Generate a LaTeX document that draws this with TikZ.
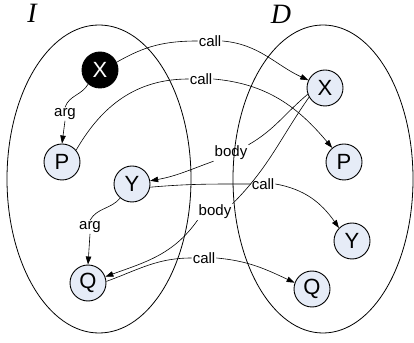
\documentclass[tikz,border=0pt]{standalone}
\usepackage{fontspec}
\setmainfont{Liberation Sans}
\newfontfamily\serifit{Liberation Serif}
\usetikzlibrary{arrows.meta}
\definecolor{nodefill}{HTML}{E6ECF7}
\begin{document}
\begin{tikzpicture}[x=1pt,y=1pt,
  vert/.style={circle,draw,line width=0.9pt,fill=nodefill,minimum size=36pt,inner sep=0pt,font=\fontsize{22}{22}\selectfont},
  blackvert/.style={vert,fill=black,text=white},
  lbl/.style={inner sep=1pt,font=\fontsize{15}{15}\selectfont},
  setlbl/.style={inner sep=0pt,font=\serifit\itshape\fontsize{28}{28}\selectfont},
  set/.style={line width=0.8pt},
  conn/.style={line width=0.6pt},
  arr/.style={conn,-{Triangle[length=8pt,width=5.5pt]}}]
\useasboundingbox (0,0) rectangle (414,342);
% sets
\draw[set] (99,163) ellipse [x radius=92, y radius=154];
\draw[set] (323,163) ellipse [x radius=90, y radius=154];
\node[setlbl] (setI) at (32,329) {I};
\node[setlbl] (setD) at (281,328) {D};
% nodes
\node[blackvert] (XL) at (100,272) {X};
\node[vert] (PL) at (62,180) {P};
\node[vert] (YL) at (132,158) {Y};
\node[vert] (QL) at (88,59) {Q};
\node[vert] (XR) at (325,254) {X};
\node[vert] (PR) at (344,180) {P};
\node[vert] (YR) at (352,101) {Y};
\node[vert] (QR) at (312,53) {Q};
% labels
\node[lbl] (c1) at (210,301) {call};
\node[lbl] (c2) at (201,263) {call};
\node[lbl] (b1) at (231,189) {body};
\node[lbl] (c3) at (263,158) {call};
\node[lbl] (b2) at (215,130) {body};
\node[lbl] (c4) at (204,84) {call};
\node[lbl] (a1) at (65,228) {arg};
\node[lbl] (a2) at (90,115) {arg};
% connectors
\draw[conn] (XL.25) to[out=30,in=180] (c1.west);
\draw[arr] (c1.east) to[out=-5,in=155] (XR.155);
\draw[conn] (PL.40) to[out=60,in=180] (c2.west);
\draw[arr] (c2.east) to[out=-5,in=130] (PR.130);
\draw[conn] (XR.200) to[out=-140,in=30] (b1.north east);
\draw[arr] (b1.south west) to[out=-160,in=10] (YL.10);
\draw[conn] (YL.-10) to[out=5,in=180] (c3.west);
\draw[arr] (c3.east) to[out=-10,in=125] (YR.135);
\draw[conn] (XR.210) to[out=-125,in=45] (b2.north east);
\draw[arr] (b2.south west) to[out=-125,in=20] (QL.20);
\draw[conn] (QL.5) to[out=20,in=180] (c4.west);
\draw[arr] (c4.east) to[out=-5,in=155] (QR.160);
\draw[conn] (XL.230) to[out=-120,in=70] (a1.north);
\draw[arr] (a1.south) -- (PL.north);
\draw[conn] (YL.230) to[out=-130,in=60] (a2.north);
\draw[arr] (a2.south) -- (QL.north);
\end{tikzpicture}
\end{document}
